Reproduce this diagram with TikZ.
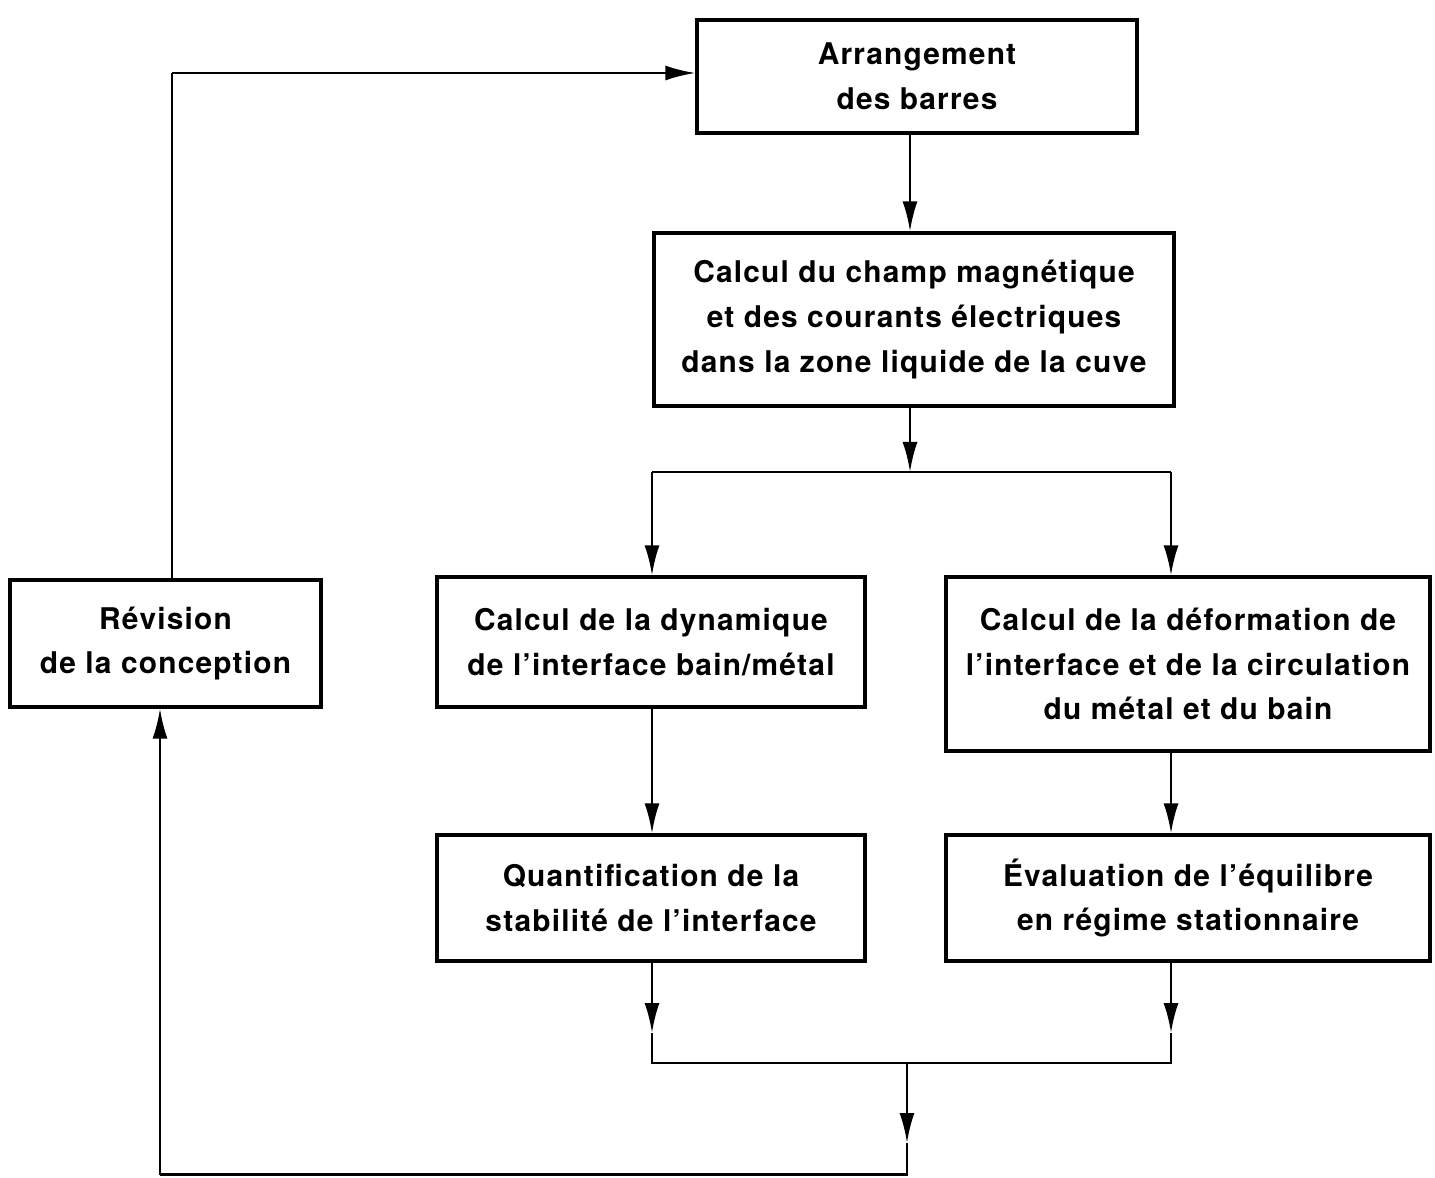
\documentclass[tikz,border=0pt]{standalone}
\usepackage{fontspec}
\setmainfont{TeX Gyre Heros}[LetterSpace=4]
\usetikzlibrary{arrows.meta}

\begin{document}
\begin{tikzpicture}[
  box/.style={draw, line width=1.8pt, inner sep=0pt, align=center,
    font=\bfseries\fontsize{17}{25.5}\selectfont},
  link/.style={line width=1.5pt},
  arrow/.style={link, -{Latex[length=0.6cm,width=0.3cm]}}
]
\useasboundingbox (0,0) rectangle (28.7,23.54);

% boxes
\node[box, minimum width=8.8cm, minimum height=2.26cm] (arr) at (18.34,22.01) {Arrangement\\des barres};
\node[box, minimum width=10.4cm, minimum height=3.46cm] (champ) at (18.28,17.15)
  {Calcul du champ magnétique\\et des courants électriques\\dans la zone liquide de la cuve};
\node[box, minimum width=6.22cm, minimum height=2.54cm] (rev) at (3.31,10.67) {Révision\\de la conception};
\node[box, minimum width=8.56cm, minimum height=2.6cm] (dyn) at (13.02,10.7)
  {Calcul de la dynamique\\de l’interface bain/métal};
\node[box, minimum width=9.68cm, minimum height=3.48cm] (def) at (23.76,10.26)
  {Calcul de la déformation de\\l’interface et de la circulation\\du métal et du bain};
\node[box, minimum width=8.56cm, minimum height=2.52cm] (quant) at (13.02,5.58)
  {Quantification de la\\stabilité de l’interface};
\node[box, minimum width=9.68cm, minimum height=2.52cm] (eval) at (23.76,5.58)
  {Évaluation de l’équilibre\\en régime stationnaire};

% guide coordinates
\coordinate (xmain) at (18.2,0);
\coordinate (xl) at (13.04,0);
\coordinate (xr) at (23.42,0);
\coordinate (xm) at (18.14,0);
\coordinate (xrevup) at (3.44,0);
\coordinate (xrevdn) at (3.2,0);
\coordinate (ysplit) at (0,14.1);
\coordinate (ytip) at (0,2.88);
\coordinate (ymerge) at (0,2.28);
\coordinate (ydown) at (0,0.68);
\coordinate (ybase) at (0,0.05);
\coordinate (ytop) at (0,22.08);

% top part
\draw[arrow] (arr.south -| xmain) -- (champ.north -| xmain);
\draw[arrow] (champ.south -| xmain) -- (xmain |- ysplit);
\draw[link] (xl |- ysplit) -- (xr |- ysplit);
\draw[arrow] (xl |- ysplit) -- (dyn.north -| xl);
\draw[arrow] (xr |- ysplit) -- (def.north -| xr);

% middle
\draw[arrow] (dyn.south -| xl) -- (quant.north -| xl);
\draw[arrow] (def.south -| xr) -- (eval.north -| xr);

% merge
\draw[arrow] (quant.south -| xl) -- (xl |- ytip);
\draw[link] (xl |- ytip) -- (xl |- ymerge) -- (xr |- ymerge) -- (xr |- ytip);
\draw[arrow] (eval.south -| xr) -- (xr |- ytip);
\draw[arrow] (xm |- ymerge) -- (xm |- ydown);
\draw[link] (xm |- ydown) -- (xm |- ybase) -- (xrevdn |- ybase);
\draw[arrow] (xrevdn |- ybase) -- (rev.south -| xrevdn);

% feedback
\draw[link] (rev.north -| xrevup) -- (xrevup |- ytop);
\draw[arrow] (xrevup |- ytop) -- (arr.west |- ytop);
\end{tikzpicture}
\end{document}
